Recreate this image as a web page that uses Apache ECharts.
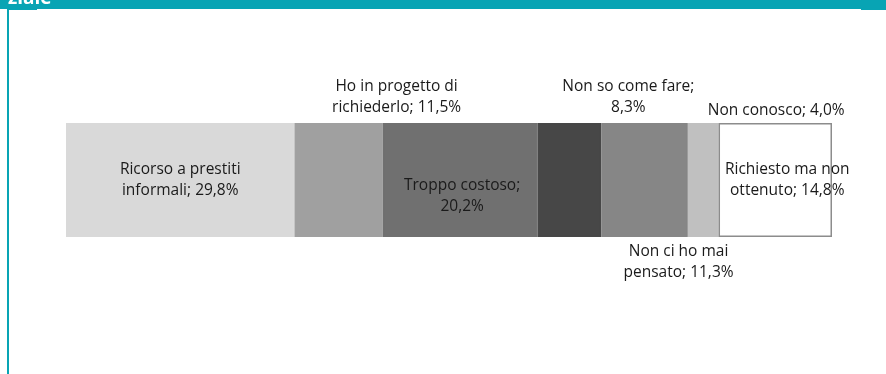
<!DOCTYPE html>
<html>
<head>
<meta charset="utf-8">
<script src="https://cdn.jsdelivr.net/npm/echarts@6/dist/echarts.min.js"></script>
<style>
html,body{margin:0;padding:0;background:#fff;}
#chart{width:886px;height:374px;}
</style>
</head>
<body>
<div id="chart"></div>
<script>
var categories = ['Ricorso a prestiti informali', 'Ho in progetto di richiederlo', 'Troppo costoso', 'Non so come fare', 'Non ci ho mai pensato', 'Non conosco', 'Richiesto ma non ottenuto'];
var labelTexts = ['Ricorso a prestiti\ninformali; 29,8%', 'Ho in progetto di\nrichiederlo; 11,5%', 'Troppo costoso;\n20,2%', 'Non so come fare;\n8,3%', 'Non ci ho mai\npensato; 11,3%', 'Non conosco; 4,0%', 'Richiesto ma non\nottenuto; 14,8%'];
var values = [29.8, 11.5, 20.2, 8.3, 11.3, 4.0, 14.8];

var colors = ['#d9d9d9', '#a0a0a0', '#707070', '#474747', '#868686', '#c0c0c0', '#ffffff'];
var labelCfg = [
  {position: 'inside', offset: [0, 0]},
  {position: 'top', offset: [58, 0], distance: 5},
  {position: 'inside', offset: [2, 16]},
  {position: 'top', offset: [59, 0], distance: 5},
  {position: 'bottom', offset: [34, 0], distance: 4},
  {position: 'top', offset: [73, 0], distance: 2},
  {position: 'inside', offset: [12, 0]}
];
var total = values.reduce(function(a, b){ return a + b; }, 0);

var font = 'Open Sans';
var series = categories.map(function(name, i){
  return {
    name: name,
    type: 'bar',
    stack: 'total',
    barWidth: '100%',
    data: [values[i]],
    itemStyle: {
      color: colors[i],
      borderColor: i === 6 ? '#8c8c8c' : colors[i],
      borderWidth: i === 6 ? 1.5 : 1.4
    },
    label: {
      show: true,
      position: labelCfg[i].position,
      offset: labelCfg[i].offset,
      distance: labelCfg[i].distance,
      formatter: labelTexts[i],
      color: '#1a1a1a',
      fontFamily: font,
      fontSize: 15.5,
      lineHeight: 21,
      align: 'center'
    },
    emphasis: {disabled: true},
    silent: true
  };
});

var chart = echarts.init(document.getElementById('chart'));
chart.setOption({
  animation: false,
  grid: {left: 66, right: 54, top: 123, bottom: 137, containLabel: false},
  xAxis: {type: 'value', min: 0, max: total, show: false},
  yAxis: {type: 'category', data: ['Totale'], show: false},
  series: series,
  graphic: [
    {type: 'rect', shape: {x: 0, y: 0, width: 886, height: 9}, style: {fill: '#08a4b4'}},
    {type: 'rect', shape: {x: 7, y: 0, width: 30, height: 10}, style: {fill: '#08a4b4'}},
    {type: 'rect', shape: {x: 861, y: 0, width: 25, height: 10}, style: {fill: '#08a4b4'}},
    {type: 'rect', shape: {x: 7, y: 0, width: 2, height: 374}, style: {fill: '#08a4b4'}},
    {type: 'text', left: 8, top: -11, style: {text: 'ziale', fill: '#ffffff', font: 'bold 19px "Open Sans"'}}
  ]
});
</script>
</body>
</html>
